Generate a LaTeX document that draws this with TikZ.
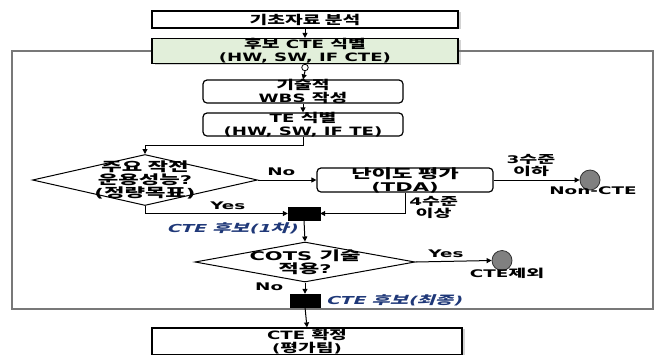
\documentclass[tikz,border=0pt]{standalone}
\usepackage{fontspec}
\setmainfont{DejaVu Sans}
\newfontfamily\kr{Noto Sans CJK KR}[Scale=1.06]
\newcommand\ka[1]{{\kr\bfseries #1}}
\usetikzlibrary{arrows.meta,shapes.geometric,shadows}
\definecolor{boxgreen}{RGB}{226,239,218}
\definecolor{lblue}{RGB}{31,56,120}
\definecolor{framegray}{RGB}{120,120,120}
\tikzset{
  txt/.style={font=\fontsize{11.5}{12.8}\selectfont\bfseries, align=center, inner sep=0pt, xscale=1.58, transform shape},
  txtb/.style={font=\fontsize{12}{13}\selectfont\bfseries, align=center, inner sep=0pt, xscale=1.75, transform shape},
  lbl/.style={font=\fontsize{10.5}{12.5}\selectfont\bfseries, align=center, inner sep=0pt, xscale=1.75, transform shape},
  ital/.style={font=\fontsize{11}{12}\selectfont\bfseries, text=lblue, inner sep=0pt, xscale=1.7, xslant=0.22, transform shape},
  sqbox/.style={draw=black, line width=1.2pt, fill=white, inner sep=0pt,
    drop shadow={shadow xshift=2.5pt, shadow yshift=-1pt, opacity=0.35}},
  rbox/.style={draw=black, line width=1.2pt, rounded corners=4pt, fill=white, inner sep=0pt},
  diam/.style={diamond, draw=black, line width=1pt, fill=white, inner sep=0pt},
  term/.style={circle, draw=black!80, line width=0.8pt, fill=black!50, minimum size=20pt, inner sep=0pt},
  junc/.style={circle, draw=black, line width=0.8pt, fill=white, minimum size=6.5pt, inner sep=0pt},
  bar/.style={fill=black, draw=black, inner sep=0pt},
  arr/.style={-{Triangle[length=5pt,width=5pt]}, line width=1pt, draw=black},
  ln/.style={line width=1pt, draw=black},
  framel/.style={line width=1.3pt, draw=framegray}
}
\begin{document}
\begin{tikzpicture}[x=1pt,y=-1pt]
\useasboundingbox (0,0) rectangle (661,354);
% frame
\coordinate (ftl) at (12,51);
\coordinate (fbl) at (12,309);
\coordinate (fbr) at (653,309);
\coordinate (ftr) at (653,51);
% boxes
\node[sqbox, minimum width=306pt, minimum height=17pt] (b1) at (305,19.5) {};
\node[txt] (t1) at (b1) {\ka{기초자료 분석}};
\node[sqbox, fill=boxgreen, minimum width=306pt, minimum height=25pt] (b2) at (305,51) {};
\draw[framel] (b2.west) -- (ftl) -- (fbl) -- (fbr) -- (ftr) -- (b2.east);
\node[txt] (t2) at (b2) {\ka{후보} CTE \ka{식별}\\(HW, SW, IF CTE)};
\node[junc] (jc) at (305,67.5) {};
\node[rbox, minimum width=200pt, minimum height=23pt] (b3) at (303,91.5) {};
\node[txt] (t3) at (b3) {\ka{기술적}\\WBS \ka{작성}};
\node[rbox, minimum width=200pt, minimum height=23pt] (b4) at (303,124.5) {};
\node[txt] (t4) at (b4) {TE \ka{식별}\\(HW, SW, IF TE)};
\coordinate (bend1) at (303,145);
\node[diam, minimum width=225pt, minimum height=51pt] (d1) at (145,180) {};
\node[txtb] (td1) at (d1) {\ka{주요 작전}\\\ka{운용성능}?\\(\ka{정량목표})};
\node[rbox, minimum width=176pt, minimum height=24pt] (tda) at (405,180) {};
\node[txtb] (ttda) at (tda) {\ka{난이도 평가}\\(TDA)};
\node[term] (nc) at (590,180) {};
\node[lbl, anchor=north] (ncl) at (593,187) {Non-CTE};
\node[bar, minimum width=32pt, minimum height=13pt] (sq1) at (304,213.5) {};
\node[ital, anchor=east] (c1) at (299,228) {CTE \ka{후보}(1\ka{차})};
\node[diam, minimum width=220pt, minimum height=40pt] (d2) at (305,262) {};
\node[txtb] (td2) at (d2) {COTS \ka{기술}\\\ka{적용}?};
\node[term] (cx) at (502,260.5) {};
\node[lbl, anchor=north] (cxl) at (507,268) {CTE\ka{제외}};
\node[bar, minimum width=30pt, minimum height=13pt] (sq2) at (305,300.5) {};
\node[ital, anchor=west] (c2) at (327,300.5) {CTE \ka{후보}(\ka{최종})};
\node[sqbox, minimum width=310pt, minimum height=27pt] (bf) at (307,341.5) {};
\node[txt] (tf) at (bf) {CTE \ka{확정}\\(\ka{평가팀})};
% connectors
\draw[arr] (b1.south) -- (b2.north);
\draw[ln] (b2.south) -- (jc.north);
\draw[arr] (jc.south) -- (b3.north);
\draw[arr] (b3.south) -- (b4.north);
\draw[arr] (b4.south) -- (bend1) -| (d1.north);
\draw[arr] (d1.east) -- node[lbl, above=4pt, pos=0.4] (no1) {No} (tda.west);
\draw[arr] (d1.south) |- node[lbl, above=3pt, pos=0.79] (yes1) {Yes} (sq1.west);
\draw[arr] (tda.south) |- (sq1.east);
\node[lbl, anchor=west] (lv4) at (409,207.5) {4\ka{수준}\\\ka{이상}};
\draw[arr] (tda.east) -- (nc.west);
\node[lbl] (lv3) at (531,165.5) {3\ka{수준}\\\ka{이하}};
\draw[arr] (sq1.south) -- (d2.north);
\draw[arr] (d2.east) -- node[lbl, above=3pt, pos=0.4] (yes2) {Yes} (cx.west);
\draw[arr] (d2.south) -- node[lbl, left=12pt, pos=0.4] (no2) {No} (sq2.north);
\draw[arr] (sq2.south) -- (bf.north);
\end{tikzpicture}
\end{document}
